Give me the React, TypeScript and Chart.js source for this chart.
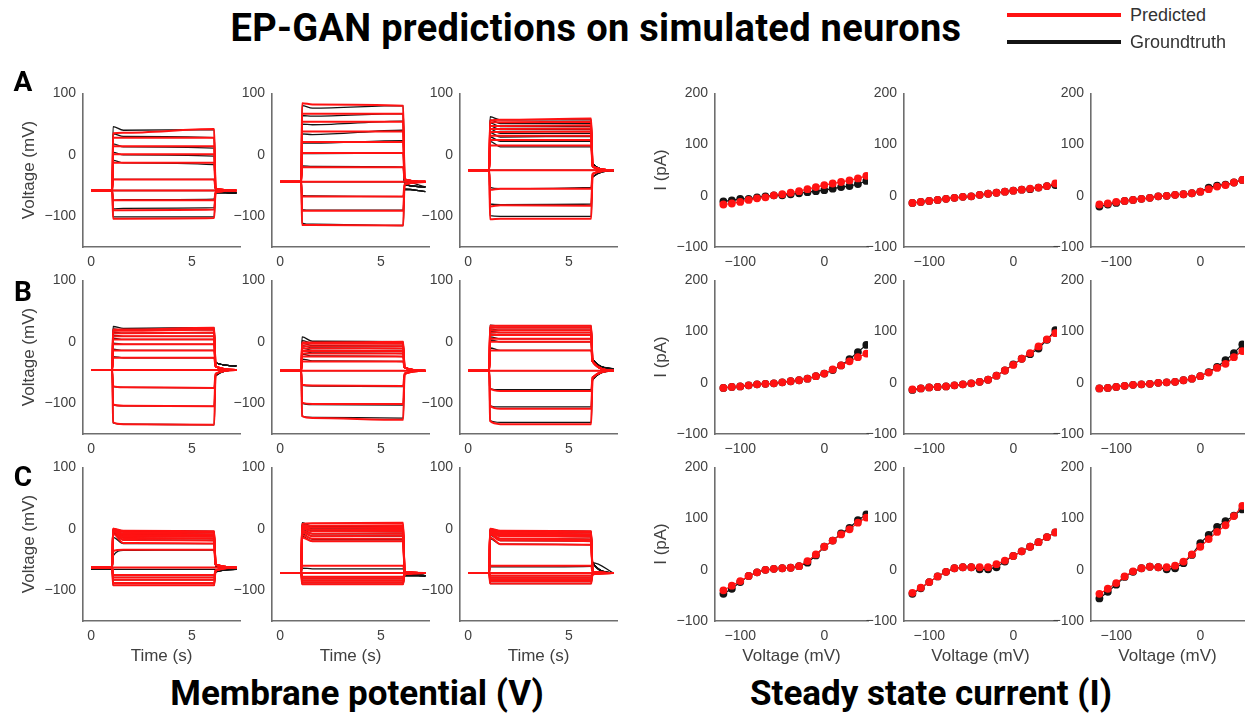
import React, { useEffect, useRef } from "react";
import { Chart, registerables } from "chart.js";

Chart.register(...registerables);

// ---------- axis ticks / ranges ----------
const V_X_TICKS = [0, 5];
const V_Y_TICKS = [-100, 0, 100];
const I_X_TICKS = [-100, 0];
const I_Y_TICKS = [-100, 0, 100, 200];
const V_X_RANGE = [-0.4, 7.38];
const V_Y_RANGE = [-150, 100];
const I_X_RANGE = [-130, 52];
const I_Y_RANGE = [-100, 200];

// protocol times (s): start, onset, peak, settled, offset, tail, end
const STEP_TIMES = [0, 1.05, 1.09, 1.6, 6.1, 6.17, 7.2];

// ---------- membrane potential traces (mV) ----------
// rest = [groundtruth, predicted]; tail = [hiStart, hiEnd, loStart, loEnd, flatEnd]
const vA1_rest = [-58, -58];
const vA1_gtPeak = [46, 34, 18, 4, -9, -40, -58, -74, -88, -101];
const vA1_gtHold = [40, 30, 13, 0, -13, -40, -58, -73, -87, -101];
const vA1_gtEnd = [41, 28, 11, -2, -16, -40, -58, -72, -86, -101];
const vA1_prPeak = [35, 28, 14, 1, -13, -40, -58, -74, -90, -104];
const vA1_prHold = [36, 28, 14, 1, -13, -40, -58, -74, -90, -104];
const vA1_prEnd = [42, 28, 14, 1, -13, -40, -58, -74, -89, -103];
const vA1_gtTail = [-57, -62, -62, -62, -62];
const vA1_prTail = [-55, -58, -61, -58, -58];

const vA2_rest = [-44, -44];
const vA2_gtPeak = [80, 64, 50, 34, 19, 2, -18, -44, -66, -89, -111];
const vA2_gtHold = [76, 63, 49, 33, 19, 2, -19, -44, -67, -90, -113];
const vA2_gtEnd = [80, 67, 55, 40, 23, 3, -20, -44, -68, -90, -115];
const vA2_prPeak = [84, 67, 54, 38, 21, 3, -20, -44, -68, -91, -114];
const vA2_prHold = [82, 67, 54, 38, 21, 3, -20, -44, -68, -91, -114];
const vA2_prEnd = [80, 67, 54, 38, 21, 3, -20, -44, -68, -91, -115];
const vA2_gtTail = [-48, -52, -56, -60, -52];
const vA2_prTail = [-40, -44, -48, -44, -44];

const vA3_rest = [-25, -25];
const vA3_gtPeak = [62, 57, 52, 47, 42, 36, 29, 22, -25, -53, -80, -99];
const vA3_gtHold = [57, 51, 46, 41, 35, 29, 22, 13, -25, -55, -81, -100];
const vA3_gtEnd = [57, 51, 46, 41, 35, 30, 22, 13, -25, -53, -80, -100];
const vA3_prPeak = [56, 53, 47, 42, 37, 31, 24, 15, -25, -57, -84, -105];
const vA3_prHold = [57, 53, 47, 42, 37, 31, 24, 15, -25, -55, -82, -104];
const vA3_prEnd = [59, 54, 48, 43, 38, 31, 24, 15, -25, -55, -83, -104];
const vA3_gtTail = [-15, -26, -36, -26, -25];
const vA3_prTail = [-19, -25, -31, -25, -25];

const vB1_rest = [-46, -46];
const vB1_gtPeak = [25, 21, 16, 11, 6, -2, -12, -24, -46, -73, -103, -132];
const vB1_gtHold = [22, 19, 14, 9, 4, -4, -14, -26, -46, -74, -104, -134];
const vB1_gtEnd = [23, 20, 15, 9, 4, -4, -14, -26, -46, -75, -105, -135];
const vB1_prPeak = [20, 18, 14, 9, 4, -4, -14, -26, -46, -72, -102, -131];
const vB1_prHold = [20, 18, 14, 9, 4, -4, -14, -26, -46, -74, -104, -134];
const vB1_prEnd = [23, 20, 15, 9, 4, -4, -14, -26, -46, -75, -105, -135];
const vB1_gtTail = [-34, -39, -55, -46, -46];
const vB1_prTail = [-40, -46, -52, -46, -46];

const vB2_rest = [-47, -47];
const vB2_gtPeak = [8, 2, -2, -6, -10, -15, -20, -28, -47, -71, -100, -121];
const vB2_gtHold = [1, -2, -6, -10, -14, -18, -23, -31, -47, -72, -102, -123];
const vB2_gtEnd = [0, -3, -7, -11, -15, -19, -24, -32, -47, -73, -103, -124];
const vB2_prPeak = [-1, -3, -7, -11, -15, -19, -24, -32, -47, -70, -99, -121];
const vB2_prHold = [-1, -3, -7, -11, -15, -19, -24, -32, -47, -71, -101, -124];
const vB2_prEnd = [0, -3, -7, -11, -15, -19, -24, -32, -47, -72, -101, -127];
const vB2_gtTail = [-42, -47, -52, -47, -47];
const vB2_prTail = [-42, -47, -52, -47, -47];

const vB3_rest = [-47, -47];
const vB3_gtPeak = [27, 24, 21, 17, 13, 8, 3, -10, -47, -76, -104, -128];
const vB3_gtHold = [26, 23, 19, 15, 11, 5, 0, -14, -47, -78, -106, -131];
const vB3_gtEnd = [26, 23, 19, 15, 11, 5, 0, -14, -47, -78, -106, -131];
const vB3_prPeak = [26, 23, 19, 15, 11, 5, 0, -14, -47, -76, -104, -129];
const vB3_prHold = [26, 23, 19, 15, 11, 5, 0, -14, -47, -80, -109, -134];
const vB3_prEnd = [26, 23, 19, 15, 11, 5, 0, -14, -47, -80, -109, -134];
const vB3_gtTail = [-28, -44, -62, -47, -47];
const vB3_prTail = [-32, -47, -58, -47, -47];

const vC1_rest = [-66, -63];
const vC1_gtPeak = [-1, -2, -3, -4, -5, -6, -8, -14, -44, -66, -75, -79, -83, -88, -92];
const vC1_gtHold = [-3, -5, -8, -10, -12, -15, -18, -24, -35, -66, -75, -79, -83, -88, -92];
const vC1_gtEnd = [-4, -6, -9, -11, -13, -16, -19, -24, -34, -66, -75, -79, -83, -88, -92];
const vC1_prPeak = [0, 0, -1, -1, -2, -3, -4, -8, -36, -63, -75, -79, -83, -88, -92];
const vC1_prHold = [-3, -5, -8, -10, -12, -15, -18, -23, -34, -63, -75, -79, -83, -88, -92];
const vC1_prEnd = [-4, -6, -9, -11, -13, -16, -19, -24, -34, -63, -75, -79, -83, -88, -92];
const vC1_gtTail = [-60, -66, -70, -66, -66];
const vC1_prTail = [-58, -63, -68, -63, -63];

const vC2_rest = [-72, -72];
const vC2_gtPeak = [10, 8, 6, 4, 2, -1, -4, -8, -12, -64, -72, -78, -81, -84, -87, -90];
const vC2_gtHold = [4, 2, 0, -2, -4, -8, -12, -17, -20, -65, -72, -78, -81, -84, -87, -90];
const vC2_gtEnd = [3, 1, -1, -3, -5, -8, -12, -17, -20, -65, -72, -78, -81, -84, -87, -90];
const vC2_prPeak = [8, 6, 4, 2, 0, -3, -6, -10, -14, -60, -72, -78, -81, -84, -87, -90];
const vC2_prHold = [9, 5, 2, -1, -4, -8, -12, -16, -20, -60, -72, -78, -81, -84, -87, -90];
const vC2_prEnd = [10, 6, 3, 0, -3, -7, -11, -16, -20, -60, -72, -78, -81, -84, -87, -90];
const vC2_gtTail = [-72, -76, -76, -76, -76];
const vC2_prTail = [-70, -72, -74, -72, -72];

const vC3_rest = [-72, -72];
const vC3_gtPeak = [0, -1, -2, -3, -5, -7, -10, -16, -62, -72, -76, -79, -82, -85, -89];
const vC3_gtHold = [-3, -5, -8, -10, -12, -16, -19, -25, -62, -72, -76, -79, -82, -85, -89];
const vC3_gtEnd = [-4, -6, -9, -11, -13, -17, -20, -26, -61, -72, -76, -79, -82, -85, -89];
const vC3_prPeak = [0, -1, -2, -3, -5, -7, -9, -14, -60, -72, -76, -79, -82, -85, -89];
const vC3_prHold = [-3, -5, -8, -10, -12, -16, -19, -25, -60, -72, -76, -79, -82, -85, -89];
const vC3_prEnd = [-4, -6, -9, -11, -13, -17, -20, -26, -60, -72, -76, -79, -82, -85, -89];
const vC3_gtTail = [-55, -72, -74, -72, -72];
const vC3_prTail = [-70, -72, -74, -72, -72];

// ---------- steady state current (pA) vs voltage (mV) ----------
const IV_VOLTAGES = [-120, -110, -100, -90, -80, -70, -60, -50, -40, -30, -20, -10, 0, 10, 20, 30, 40, 50];
const iA1_gt = [-11, -9, -6, -6, -3, -1, 1, 1, 3, 5, 7, 9, 11, 14, 17, 19, 23, 29];
const iA1_pr = [-17, -15, -12, -8, -5, -3, 1, 3, 6, 9, 13, 17, 21, 24, 27, 30, 34, 39];
const iA2_gt = [-14, -12, -10, -8, -6, -4, -2, -1, 2, 4, 6, 8, 10, 12, 13, 16, 19, 21];
const iA2_pr = [-14, -12, -10, -8, -6, -4, -2, -1, 2, 4, 6, 8, 10, 12, 14, 16, 19, 24];
const iA3_gt = [-21, -17, -14, -10, -8, -6, -4, -1, 0, 2, 3, 5, 8, 16, 20, 22, 26, 31];
const iA3_pr = [-17, -15, -12, -10, -8, -6, -4, -1, 0, 2, 3, 5, 8, 13, 18, 21, 26, 31];
const iB1_gt = [-10, -8, -7, -5, -3, -2, -1, 1, 3, 5, 8, 13, 18, 25, 34, 46, 60, 74];
const iB1_pr = [-10, -8, -7, -5, -3, -2, -1, 1, 3, 5, 8, 13, 18, 26, 34, 42, 50, 57];
const iB2_gt = [-14, -11, -9, -8, -7, -5, -3, -1, 2, 6, 14, 24, 36, 47, 56, 67, 84, 103];
const iB2_pr = [-13, -11, -9, -8, -7, -5, -3, -1, 2, 6, 14, 24, 35, 47, 58, 71, 85, 97];
const iB3_gt = [-11, -10, -8, -6, -4, -3, -2, 0, 1, 2, 5, 8, 13, 21, 31, 44, 58, 75];
const iB3_pr = [-11, -10, -8, -6, -4, -3, -2, 0, 1, 2, 5, 8, 13, 20, 29, 37, 50, 62];
const iC1_gt = [-47, -37, -24, -12, -5, 0, 2, 3, 4, 7, 14, 28, 45, 57, 71, 82, 97, 108];
const iC1_pr = [-40, -31, -22, -12, -5, 0, 2, 3, 4, 7, 17, 30, 45, 57, 69, 79, 92, 102];
const iC2_gt = [-47, -36, -24, -13, -4, 3, 5, 5, 1, 1, 5, 16, 27, 36, 45, 54, 64, 73];
const iC2_pr = [-45, -35, -24, -13, -4, 3, 5, 5, 5, 5, 11, 18, 27, 36, 45, 54, 64, 73];
const iC3_gt = [-56, -43, -29, -14, -4, 3, 6, 5, 1, 3, 13, 29, 52, 68, 84, 95, 106, 118];
const iC3_pr = [-47, -37, -26, -13, -3, 3, 6, 5, 5, 8, 16, 30, 45, 60, 74, 87, 105, 125];

// ---------- styling / layout ----------
const RED = "rgb(255, 18, 18)";
const BLACK = "rgb(20, 20, 20)";
const TICK_COLOR = "#404040";
const AXIS_COLOR = "#6e6e6e";
const FONT = "'Liberation Sans', Arial, sans-serif";
const HEAD_FONT = "Roboto, 'Noto Sans', sans-serif";

const COLS_V = [83, 272, 460];
const COLS_I = [715, 904, 1091];
const ROW_TOP = [92, 279, 466];
const PLOT_H = 155;
const V_W = 157;
const I_W = 153;
const LW = 52;
const PT = 14;
const PR = 14;
const BH = 30;

const fmt = (v: number) => (v < 0 ? "\u2212" + Math.abs(v) : String(v));

function scales(xr: number[], yr: number[], xt: number[], yt: number[]) {
  const common = (ticks: number[]) => ({
    type: "linear",
    grid: { display: false, drawTicks: false },
    border: { display: true, color: AXIS_COLOR, width: 1.6 },
    ticks: {
      color: TICK_COLOR,
      font: { family: FONT, size: 14 },
      padding: 7,
      autoSkip: false,
      maxRotation: 0,
      callback: (v: number) => fmt(v),
    },
    afterBuildTicks: (a: any) => {
      a.ticks = ticks.map((value) => ({ value }));
    },
  });
  return {
    x: { ...common(xt), min: xr[0], max: xr[1], afterFit: (a: any) => { a.height = BH; } },
    y: { ...common(yt), min: yr[0], max: yr[1], afterFit: (a: any) => { a.width = LW; } },
  };
}

function traceSets(rest: number, peak: number[], hold: number[], end: number[], tail: number[], color: string, width: number) {
  return end.map((e, i) => {
    const hi = hold[i] > rest + 1;
    const lo = hold[i] < rest - 1;
    const ts = hi ? tail[0] : lo ? tail[2] : rest;
    const te = hi ? tail[1] : lo ? tail[3] : tail[4];
    const ys = [rest, rest, peak[i], hold[i], e, ts, te];
    return {
      data: STEP_TIMES.map((x, k) => ({ x, y: ys[k] })),
      borderColor: color,
      borderWidth: width,
      pointRadius: 0,
      cubicInterpolationMode: "monotone",
      fill: false,
    };
  });
}

// Chart.js paints the first dataset on top, so predicted (red) comes first
function voltageConfig(rest: number[], gP: number[], gH: number[], gE: number[], pP: number[], pH: number[], pE: number[], gT: number[], pT: number[]) {
  return () => ({
    type: "line",
    data: {
      datasets: [
        ...traceSets(rest[1], pP, pH, pE, pT, RED, 2),
        ...traceSets(rest[0], gP, gH, gE, gT, BLACK, 1.3),
      ],
    },
    options: baseOptions(scales(V_X_RANGE, V_Y_RANGE, V_X_TICKS, V_Y_TICKS)),
  });
}

function ivConfig(gt: number[], pr: number[]) {
  const mk = (vals: number[], color: string) => ({
    data: IV_VOLTAGES.map((x, k) => ({ x, y: vals[k] })),
    borderColor: color,
    backgroundColor: color,
    borderWidth: 1.2,
    pointRadius: 3.9,
    pointBorderWidth: 0,
    pointBackgroundColor: color,
    fill: false,
  });
  return () => ({
    type: "line",
    data: { datasets: [mk(pr, RED), mk(gt, BLACK)] },
    options: baseOptions(scales(I_X_RANGE, I_Y_RANGE, I_X_TICKS, I_Y_TICKS)),
  });
}

function baseOptions(sc: any) {
  return {
    responsive: false,
    maintainAspectRatio: false,
    animation: false,
    events: [],
    layout: { padding: { top: PT, right: PR, left: 0, bottom: 0 } },
    plugins: { legend: { display: false }, tooltip: { enabled: false }, title: { display: false } },
    scales: sc,
  };
}

function Panel({ left, top, width, config }: { left: number; top: number; width: number; config: () => any }) {
  const ref = useRef<HTMLCanvasElement>(null);
  useEffect(() => {
    const chart = new Chart(ref.current as HTMLCanvasElement, config());
    return () => chart.destroy();
  }, []);
  const w = LW + width + PR;
  const h = PT + PLOT_H + BH;
  return (
    <canvas
      ref={ref}
      width={w}
      height={h}
      style={{ position: "absolute", left: left - LW, top: top - PT, width: w, height: h }}
    />
  );
}

const V_PANELS = [
  [voltageConfig(vA1_rest, vA1_gtPeak, vA1_gtHold, vA1_gtEnd, vA1_prPeak, vA1_prHold, vA1_prEnd, vA1_gtTail, vA1_prTail),
   voltageConfig(vA2_rest, vA2_gtPeak, vA2_gtHold, vA2_gtEnd, vA2_prPeak, vA2_prHold, vA2_prEnd, vA2_gtTail, vA2_prTail),
   voltageConfig(vA3_rest, vA3_gtPeak, vA3_gtHold, vA3_gtEnd, vA3_prPeak, vA3_prHold, vA3_prEnd, vA3_gtTail, vA3_prTail)],
  [voltageConfig(vB1_rest, vB1_gtPeak, vB1_gtHold, vB1_gtEnd, vB1_prPeak, vB1_prHold, vB1_prEnd, vB1_gtTail, vB1_prTail),
   voltageConfig(vB2_rest, vB2_gtPeak, vB2_gtHold, vB2_gtEnd, vB2_prPeak, vB2_prHold, vB2_prEnd, vB2_gtTail, vB2_prTail),
   voltageConfig(vB3_rest, vB3_gtPeak, vB3_gtHold, vB3_gtEnd, vB3_prPeak, vB3_prHold, vB3_prEnd, vB3_gtTail, vB3_prTail)],
  [voltageConfig(vC1_rest, vC1_gtPeak, vC1_gtHold, vC1_gtEnd, vC1_prPeak, vC1_prHold, vC1_prEnd, vC1_gtTail, vC1_prTail),
   voltageConfig(vC2_rest, vC2_gtPeak, vC2_gtHold, vC2_gtEnd, vC2_prPeak, vC2_prHold, vC2_prEnd, vC2_gtTail, vC2_prTail),
   voltageConfig(vC3_rest, vC3_gtPeak, vC3_gtHold, vC3_gtEnd, vC3_prPeak, vC3_prHold, vC3_prEnd, vC3_gtTail, vC3_prTail)],
];

const I_PANELS = [
  [ivConfig(iA1_gt, iA1_pr), ivConfig(iA2_gt, iA2_pr), ivConfig(iA3_gt, iA3_pr)],
  [ivConfig(iB1_gt, iB1_pr), ivConfig(iB2_gt, iB2_pr), ivConfig(iB3_gt, iB3_pr)],
  [ivConfig(iC1_gt, iC1_pr), ivConfig(iC2_gt, iC2_pr), ivConfig(iC3_gt, iC3_pr)],
];

const ROW_LETTERS = ["A", "B", "C"];
const LETTER_Y = [82, 292, 477];

function Text({ x, y, children, style, rotate }: any) {
  return (
    <div
      style={{
        position: "absolute",
        left: x,
        top: y,
        transform: `translate(-50%, -50%)${rotate ? " rotate(-90deg)" : ""}`,
        whiteSpace: "nowrap",
        fontFamily: FONT,
        fontSize: 17,
        color: TICK_COLOR,
        lineHeight: 1,
        ...style,
      }}
    >
      {children}
    </div>
  );
}

const HEAD = { fontFamily: HEAD_FONT, fontWeight: 700, color: "#000" };

export default function App() {
  return (
    <div
      style={{
        position: "fixed",
        left: 0,
        top: 0,
        width: 1251,
        height: 713,
        background: "#ffffff",
        overflow: "hidden",
      }}
    >
      {V_PANELS.map((row, r) =>
        row.map((cfg, c) => (
          <Panel key={`v${r}${c}`} left={COLS_V[c]} top={ROW_TOP[r]} width={V_W} config={cfg} />
        ))
      )}
      {I_PANELS.map((row, r) =>
        row.map((cfg, c) => (
          <Panel key={`i${r}${c}`} left={COLS_I[c]} top={ROW_TOP[r]} width={I_W} config={cfg} />
        ))
      )}

      <Text x={596} y={28} style={{ ...HEAD, fontSize: 38, letterSpacing: 0.3 }}>
        EP-GAN predictions on simulated neurons
      </Text>

      <div style={{ position: "absolute", left: 1007, top: 13, width: 114, height: 4, background: RED }} />
      <div style={{ position: "absolute", left: 1007, top: 40, width: 114, height: 4, background: BLACK }} />
      <div style={{ position: "absolute", left: 1130, top: 15, transform: "translateY(-50%)", fontFamily: FONT, fontSize: 18, color: "#333", lineHeight: 1 }}>
        Predicted
      </div>
      <div style={{ position: "absolute", left: 1130, top: 42, transform: "translateY(-50%)", fontFamily: FONT, fontSize: 18, color: "#333", lineHeight: 1 }}>
        Groundtruth
      </div>

      {ROW_LETTERS.map((L, r) => (
        <Text key={L} x={23} y={LETTER_Y[r]} style={{ ...HEAD, fontSize: 28 }}>
          {L}
        </Text>
      ))}

      {ROW_TOP.map((t, r) => (
        <Text key={`vl${r}`} x={28} y={t + PLOT_H / 2} rotate>
          Voltage (mV)
        </Text>
      ))}
      {ROW_TOP.map((t, r) => (
        <Text key={`il${r}`} x={660} y={t + PLOT_H / 2} rotate>
          I (pA)
        </Text>
      ))}

      {COLS_V.map((x, c) => (
        <Text key={`tx${c}`} x={x + V_W / 2} y={655}>
          Time (s)
        </Text>
      ))}
      {COLS_I.map((x, c) => (
        <Text key={`vx${c}`} x={x + I_W / 2} y={655}>
          Voltage (mV)
        </Text>
      ))}

      <Text x={357} y={693} style={{ ...HEAD, fontSize: 35 }}>
        Membrane potential (V)
      </Text>
      <Text x={931} y={693} style={{ ...HEAD, fontSize: 35 }}>
        Steady state current (I)
      </Text>
    </div>
  );
}
